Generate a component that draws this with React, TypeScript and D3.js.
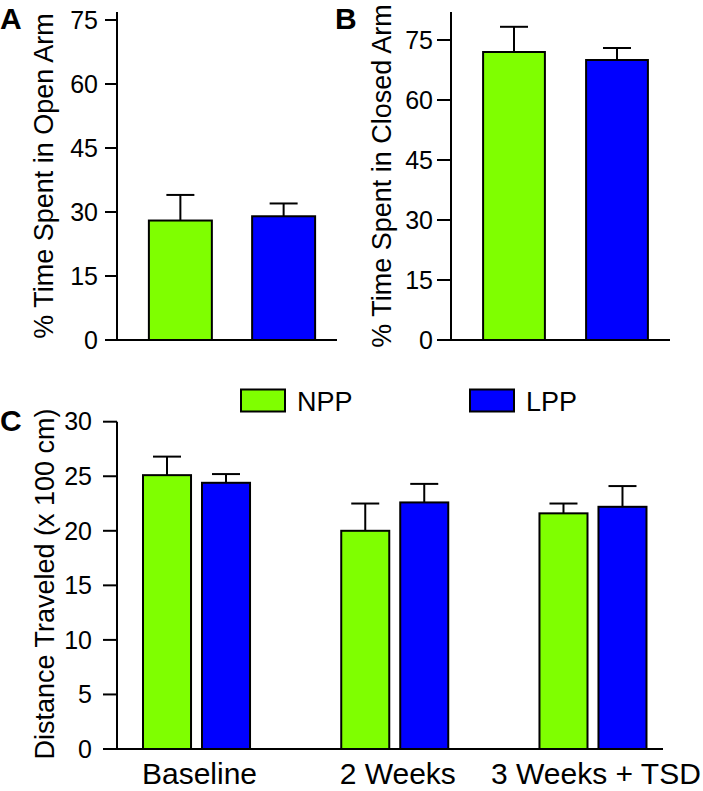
import React from 'react';
import * as d3 from 'd3';

const groups = ['NPP', 'LPP'];
const groupColors = ['#7FFF00', '#0000FF'];

const openArmMean = [28, 29];
const openArmSem = [6, 3];
const closedArmMean = [72, 70];
const closedArmSem = [6.3, 3];

const sessions = ['Baseline', '2 Weeks', '3 Weeks + TSD'];
const distNPP = [25.1, 20.0, 21.6];
const distNPPSem = [1.7, 2.5, 0.9];
const distLPP = [24.4, 22.6, 22.2];
const distLPPSem = [0.8, 1.7, 1.9];

const pctTicks = [0, 15, 30, 45, 60, 75];
const distTicks = [0, 5, 10, 15, 20, 25, 30];

const FONT = "Arial, 'Liberation Sans', sans-serif";
const W = 703;
const H = 791;
const CAP = 14; // half width of error caps

type Bar = { x: number; w: number; val: number; sem: number; color: string };

// bars with upper error bar only
const Bars = ({ bars, y }: { bars: Bar[]; y: d3.ScaleLinear<number, number> }) => (
    <g>
        {bars.map((b, i) => {
            const cx = b.x + b.w / 2;
            return (
                <g key={i}>
                    <line x1={cx} x2={cx} y1={y(b.val)} y2={y(b.val + b.sem)} stroke="#000" strokeWidth={2} />
                    <line x1={cx - CAP} x2={cx + CAP} y1={y(b.val + b.sem)} y2={y(b.val + b.sem)} stroke="#000" strokeWidth={2} />
                    <rect x={b.x} y={y(b.val)} width={b.w} height={y(0) - y(b.val)}
                        fill={b.color} stroke="#000" strokeWidth={2} />
                </g>
            );
        })}
    </g>
);

const YAxis = ({ x, y, ticks, top, tickLen, pad }: {
    x: number; y: d3.ScaleLinear<number, number>; ticks: number[]; top: number; tickLen: number; pad: number;
}) => (
    <g>
        <line x1={x} x2={x} y1={top} y2={y(0)} stroke="#000" strokeWidth={2} />
        {ticks.map(t => (
            <g key={t}>
                <line x1={x - tickLen} x2={x} y1={y(t)} y2={y(t)} stroke="#000" strokeWidth={2} />
                <text x={x - tickLen - pad} y={y(t)} dy="0.35em" textAnchor="end" fontSize={25} fontFamily={FONT}>{t}</text>
            </g>
        ))}
    </g>
);

const YLabel = ({ x, y, text }: { x: number; y: number; text: string }) => (
    <text transform={`translate(${x},${y}) rotate(-90)`} textAnchor="middle" fontSize={27} fontFamily={FONT}>{text}</text>
);

const PanelLetter = ({ x, y, text }: { x: number; y: number; text: string }) => (
    <text x={x} y={y} fontSize={30} fontWeight="bold" fontFamily={FONT}>{text}</text>
);

const App = () => {
    // panel A
    const yA = d3.scaleLinear().domain([0, 75]).range([340, 20]);
    const xA = d3.scaleBand().domain(groups).range([128.75, 335.25]).paddingInner(0.39).paddingOuter(0.195);
    const barsA: Bar[] = groups.map((g, i) => ({
        x: xA(g)!, w: xA.bandwidth(), val: openArmMean[i], sem: openArmSem[i], color: groupColors[i],
    }));

    // panel B
    const yB = d3.scaleLinear().domain([0, 75]).range([340, 40]);
    const xB = d3.scaleBand().domain(groups).range([462.5, 668.5]).paddingInner(0.4).paddingOuter(0.2);
    const barsB: Bar[] = groups.map((g, i) => ({
        x: xB(g)!, w: xB.bandwidth(), val: closedArmMean[i], sem: closedArmSem[i], color: groupColors[i],
    }));

    // panel C
    const yC = d3.scaleLinear().domain([0, 30]).range([749, 421.7]);
    const xC = d3.scaleBand().domain(sessions).range([97.4, 692.1]);
    const xSub = d3.scaleBand().domain(groups).range([0, xC.bandwidth()]).paddingInner(0.186).paddingOuter(0.773);
    const means = [distNPP, distLPP];
    const sems = [distNPPSem, distLPPSem];
    const barsC: Bar[] = [];
    sessions.forEach((s, si) => {
        groups.forEach((g, gi) => {
            barsC.push({
                x: xC(s)! + xSub(g)!, w: xSub.bandwidth(),
                val: means[gi][si], sem: sems[gi][si], color: groupColors[gi],
            });
        });
    });

    const legend = [
        { box: 241, text: 297 },
        { box: 470, text: 526 },
    ];

    return (
        <svg width={W} height={H} style={{ position: 'absolute', left: 0, top: 0, background: '#fff' }}>
            {/* A */}
            <PanelLetter x={0} y={29} text="A" />
            <YLabel x={53} y={176} text="% Time Spent in Open Arm" />
            <Bars bars={barsA} y={yA} />
            <line x1={117} x2={337} y1={yA(0)} y2={yA(0)} stroke="#000" strokeWidth={2} />
            <YAxis x={117} y={yA} ticks={pctTicks} top={12} tickLen={12} pad={7} />

            {/* B */}
            <PanelLetter x={335} y={29} text="B" />
            <YLabel x={391} y={176} text="% Time Spent in Closed Arm" />
            <Bars bars={barsB} y={yB} />
            <line x1={451} x2={670} y1={yB(0)} y2={yB(0)} stroke="#000" strokeWidth={2} />
            <YAxis x={451} y={yB} ticks={pctTicks} top={12} tickLen={14} pad={4} />

            {/* C */}
            <PanelLetter x={0} y={431} text="C" />
            <YLabel x={54} y={584} text="Distance Traveled (x 100 cm)" />
            <Bars bars={barsC} y={yC} />
            <line x1={117} x2={663} y1={yC(0)} y2={yC(0)} stroke="#000" strokeWidth={2} />
            <YAxis x={117} y={yC} ticks={distTicks} top={yC(30)} tickLen={14} pad={11} />
            {sessions.map(s => (
                <text key={s} x={xC(s)! + xC.bandwidth() / 2 + 3} y={784} textAnchor="middle" fontSize={30} fontFamily={FONT}>{s}</text>
            ))}

            {groups.map((g, i) => (
                <g key={g}>
                    <rect x={legend[i].box} y={389.5} width={44} height={22} fill={groupColors[i]} stroke="#000" strokeWidth={2} />
                    <text x={legend[i].text} y={411} fontSize={27} fontFamily={FONT}>{g}</text>
                </g>
            ))}
        </svg>
    );
};

export default App;
